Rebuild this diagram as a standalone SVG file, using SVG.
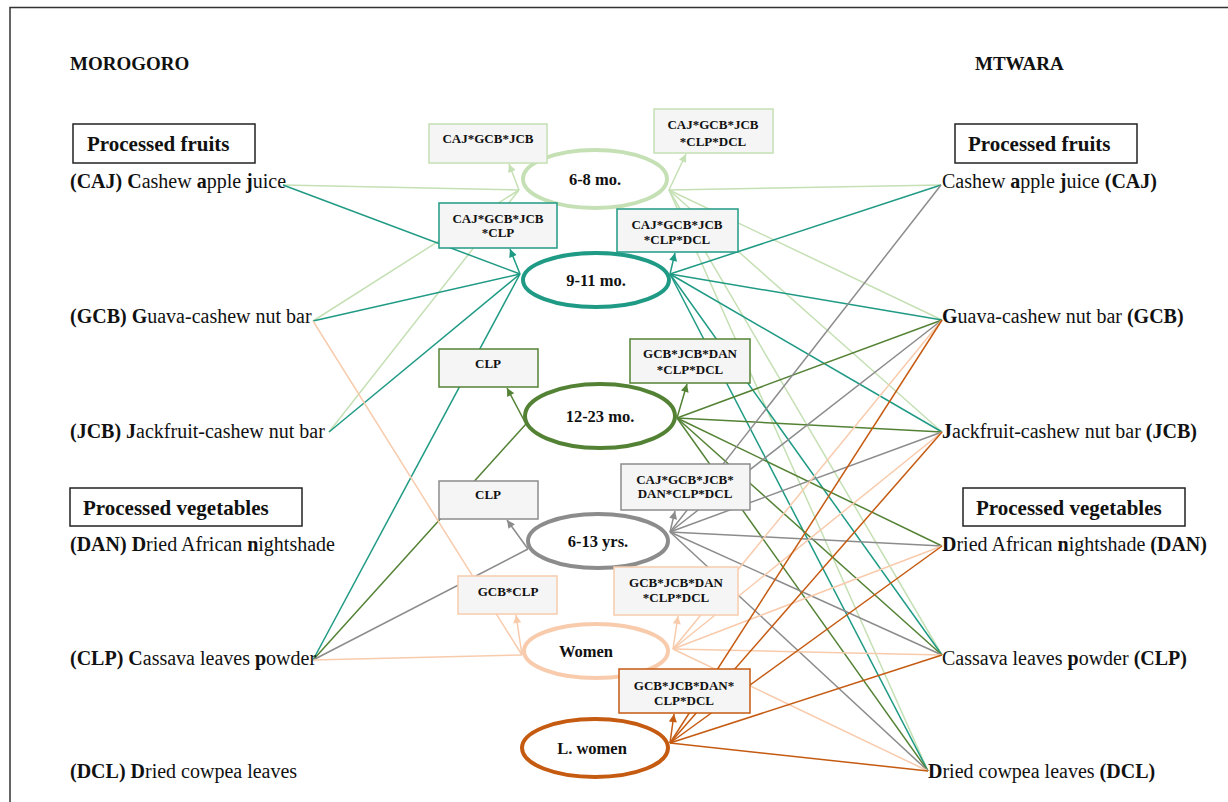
<svg xmlns="http://www.w3.org/2000/svg" width="1228" height="802" viewBox="0 0 1228 802">
<style>
text{font-family:"Liberation Serif","Times New Roman",serif;fill:#111}
.hd{font-size:19px;font-weight:bold}
.cat{font-size:21px;font-weight:bold}
.lbl{font-size:20px}
.b{font-weight:bold}
.el{font-size:16.5px;font-weight:bold;text-anchor:middle}
.bx{font-size:13px;font-weight:bold;text-anchor:middle}
.catbox{fill:#fff;stroke:#222;stroke-width:1.5}
.box{fill:#f5f5f5;stroke-width:1.5}
.ell{fill:#fff;stroke-width:4}
.c1{stroke:#c5e0b4}.c2{stroke:#1f9a84}.c3{stroke:#548235}.c4{stroke:#8c8c8c}.c5{stroke:#f8cbad}.c6{stroke:#c55a11}
.ln{fill:none;stroke-width:1.5}
</style>
<defs>
<marker id="m1" viewBox="0 0 10 10" refX="10" refY="5" markerWidth="9" markerHeight="8" markerUnits="userSpaceOnUse" orient="auto"><path d="M0,0L10,5L0,10z" fill="#c5e0b4"/></marker>
<marker id="m2" viewBox="0 0 10 10" refX="10" refY="5" markerWidth="9" markerHeight="8" markerUnits="userSpaceOnUse" orient="auto"><path d="M0,0L10,5L0,10z" fill="#1f9a84"/></marker>
<marker id="m3" viewBox="0 0 10 10" refX="10" refY="5" markerWidth="9" markerHeight="8" markerUnits="userSpaceOnUse" orient="auto"><path d="M0,0L10,5L0,10z" fill="#548235"/></marker>
<marker id="m4" viewBox="0 0 10 10" refX="10" refY="5" markerWidth="9" markerHeight="8" markerUnits="userSpaceOnUse" orient="auto"><path d="M0,0L10,5L0,10z" fill="#8c8c8c"/></marker>
<marker id="m5" viewBox="0 0 10 10" refX="10" refY="5" markerWidth="9" markerHeight="8" markerUnits="userSpaceOnUse" orient="auto"><path d="M0,0L10,5L0,10z" fill="#f8cbad"/></marker>
<marker id="m6" viewBox="0 0 10 10" refX="10" refY="5" markerWidth="9" markerHeight="8" markerUnits="userSpaceOnUse" orient="auto"><path d="M0,0L10,5L0,10z" fill="#c55a11"/></marker>
</defs>
<rect width="1228" height="802" fill="#fff"/>
<path d="M1228,7.5H10V802" fill="none" stroke="#333" stroke-width="1.5"/>

<g id="connectors">
<!-- left inputs -->
<g class="ln c1">
<line x1="283" y1="185" x2="519" y2="190"/>
<line x1="313" y1="321" x2="519" y2="190"/>
<line x1="329" y1="432" x2="519" y2="190"/>
</g>
<g class="ln c2">
<line x1="283" y1="185" x2="520" y2="274"/>
<line x1="313" y1="321" x2="520" y2="274"/>
<line x1="329" y1="432" x2="520" y2="274"/>
<line x1="313" y1="660" x2="520" y2="274"/>
</g>
<line class="ln c3" x1="313" y1="660" x2="526" y2="424"/>
<line class="ln c4" x1="313" y1="660" x2="528" y2="549"/>
<g class="ln c5">
<line x1="313" y1="321" x2="522" y2="655"/>
<line x1="313" y1="660" x2="522" y2="655"/>
</g>
<!-- right outputs -->
<g class="ln c1">
<line x1="669" y1="190" x2="941" y2="185"/>
<line x1="669" y1="190" x2="942" y2="320"/>
<line x1="669" y1="190" x2="942" y2="432"/>
<line x1="669" y1="190" x2="942" y2="655"/>
<line x1="669" y1="190" x2="928" y2="771"/>
</g>
<g class="ln c2">
<line x1="670" y1="274" x2="941" y2="185"/>
<line x1="670" y1="274" x2="942" y2="320"/>
<line x1="670" y1="274" x2="942" y2="432"/>
<line x1="670" y1="274" x2="942" y2="655"/>
<line x1="670" y1="274" x2="928" y2="771"/>
</g>
<g class="ln c3">
<line x1="677" y1="418" x2="942" y2="320"/>
<line x1="677" y1="418" x2="942" y2="432"/>
<line x1="677" y1="418" x2="942" y2="546"/>
<line x1="677" y1="418" x2="942" y2="655"/>
<line x1="677" y1="418" x2="928" y2="771"/>
</g>
<g class="ln c4">
<line x1="670" y1="532" x2="941" y2="185"/>
<line x1="670" y1="532" x2="942" y2="320"/>
<line x1="670" y1="532" x2="942" y2="432"/>
<line x1="670" y1="532" x2="942" y2="546"/>
<line x1="670" y1="532" x2="942" y2="655"/>
<line x1="670" y1="532" x2="928" y2="771"/>
</g>
<g class="ln c5">
<line x1="673" y1="649" x2="942" y2="320"/>
<line x1="673" y1="649" x2="942" y2="432"/>
<line x1="673" y1="649" x2="942" y2="546"/>
<line x1="673" y1="649" x2="942" y2="655"/>
<line x1="673" y1="649" x2="928" y2="771"/>
</g>
<g class="ln c6">
<line x1="670" y1="743" x2="942" y2="320"/>
<line x1="670" y1="743" x2="942" y2="432"/>
<line x1="670" y1="743" x2="942" y2="546"/>
<line x1="670" y1="743" x2="942" y2="655"/>
<line x1="670" y1="743" x2="928" y2="771"/>
</g>
<!-- arrows to boxes -->
<line class="ln c1" x1="519" y1="190" x2="509" y2="164" marker-end="url(#m1)"/>
<line class="ln c1" x1="669" y1="190" x2="686" y2="154" marker-end="url(#m1)"/>
<line class="ln c2" x1="520" y1="274" x2="510" y2="249" marker-end="url(#m2)"/>
<line class="ln c2" x1="670" y1="274" x2="675" y2="253" marker-end="url(#m2)"/>
<line class="ln c3" x1="526" y1="424" x2="507" y2="388" marker-end="url(#m3)"/>
<line class="ln c3" x1="677" y1="418" x2="687" y2="384" marker-end="url(#m3)"/>
<line class="ln c4" x1="528" y1="549" x2="507" y2="520" marker-end="url(#m4)"/>
<line class="ln c4" x1="670" y1="532" x2="675" y2="511" marker-end="url(#m4)"/>
<line class="ln c5" x1="522" y1="655" x2="516" y2="615" marker-end="url(#m5)"/>
<line class="ln c5" x1="673" y1="649" x2="678" y2="616" marker-end="url(#m5)"/>
<line class="ln c6" x1="670" y1="743" x2="674" y2="714" marker-end="url(#m6)"/>
</g>

<g id="headers">
<text class="hd" x="70" y="70">MOROGORO</text>
<text class="hd" x="975" y="70">MTWARA</text>
</g>

<g id="left-fruits-cat"><rect class="catbox" x="73" y="124" width="182" height="39"/><text class="cat" x="87" y="151">Processed fruits</text></g>
<g id="left-veg-cat"><rect class="catbox" x="70" y="488" width="232" height="38"/><text class="cat" x="83" y="515">Processed vegetables</text></g>
<g id="right-fruits-cat"><rect class="catbox" x="955" y="124" width="182" height="39"/><text class="cat" x="968" y="151">Processed fruits</text></g>
<g id="right-veg-cat"><rect class="catbox" x="963" y="488" width="222" height="38"/><text class="cat" x="976" y="515">Processed vegetables</text></g>

<g id="L-CAJ"><text class="lbl" x="70" y="188"><tspan class="b">(CAJ) C</tspan>ashew <tspan class="b">a</tspan>pple <tspan class="b">j</tspan>uice</text></g>
<g id="L-GCB"><text class="lbl" x="70" y="323"><tspan class="b">(GCB) G</tspan>uava-cashew nut bar</text></g>
<g id="L-JCB"><text class="lbl" x="70" y="438"><tspan class="b">(JCB) J</tspan>ackfruit-cashew nut bar</text></g>
<g id="L-DAN"><text class="lbl" x="70" y="551"><tspan class="b">(DAN) D</tspan>ried African <tspan class="b">n</tspan>ightshade</text></g>
<g id="L-CLP"><text class="lbl" x="70" y="665"><tspan class="b">(CLP) C</tspan>assava leaves <tspan class="b">p</tspan>owder</text></g>
<g id="L-DCL"><text class="lbl" x="70" y="778"><tspan class="b">(DCL) D</tspan>ried cowpea leaves</text></g>

<g id="R-CAJ"><text class="lbl" x="942" y="188">Cashew <tspan class="b">a</tspan>pple <tspan class="b">j</tspan>uice <tspan class="b">(CAJ)</tspan></text></g>
<g id="R-GCB"><text class="lbl" x="942" y="323"><tspan class="b">G</tspan>uava-cashew nut bar <tspan class="b">(GCB)</tspan></text></g>
<g id="R-JCB"><text class="lbl" x="942" y="438"><tspan class="b">J</tspan>ackfruit-cashew nut bar <tspan class="b">(JCB)</tspan></text></g>
<g id="R-DAN"><text class="lbl" x="942" y="551"><tspan class="b">D</tspan>ried African <tspan class="b">n</tspan>ightshade <tspan class="b">(DAN)</tspan></text></g>
<g id="R-CLP"><text class="lbl" x="942" y="665">Cassava leaves <tspan class="b">p</tspan>owder <tspan class="b">(CLP)</tspan></text></g>
<g id="R-DCL"><text class="lbl" x="928" y="778"><tspan class="b">D</tspan>ried cowpea leaves <tspan class="b">(DCL)</tspan></text></g>

<g id="n-6-8">
<ellipse class="ell c1" cx="595" cy="179" rx="72" ry="29"/><text class="el" x="595" y="185">6-8 mo.</text>
<rect class="box c1" x="429" y="124" width="118" height="39"/><text class="bx" x="488" y="143">CAJ*GCB*JCB</text>
<rect class="box c1" x="654" y="109" width="119" height="44"/><text class="bx" x="713" y="129">CAJ*GCB*JCB</text><text class="bx" x="713" y="146">*CLP*DCL</text>
</g>
<g id="n-9-11">
<ellipse class="ell c2" cx="596" cy="280" rx="73" ry="27"/><text class="el" x="596" y="286">9-11 mo.</text>
<rect class="box c2" x="439" y="203" width="118" height="45"/><text class="bx" x="498" y="223">CAJ*GCB*JCB</text><text class="bx" x="498" y="237">*CLP</text>
<rect class="box c2" x="617" y="209" width="121" height="43"/><text class="bx" x="677" y="229">CAJ*GCB*JCB</text><text class="bx" x="677" y="244">*CLP*DCL</text>
</g>
<g id="n-12-23">
<ellipse class="ell c3" cx="600" cy="416" rx="75" ry="32"/><text class="el" x="600" y="422">12-23 mo.</text>
<rect class="box c3" x="439" y="349" width="99" height="38"/><text class="bx" x="488" y="368">CLP</text>
<rect class="box c3" x="630" y="339" width="120" height="44"/><text class="bx" x="690" y="358">GCB*JCB*DAN</text><text class="bx" x="690" y="374">*CLP*DCL</text>
</g>
<g id="n-6-13">
<ellipse class="ell c4" cx="598" cy="541" rx="70" ry="27"/><text class="el" x="598" y="547">6-13 yrs.</text>
<rect class="box c4" x="439" y="481" width="99" height="38"/><text class="bx" x="488" y="499">CLP</text>
<rect class="box c4" x="621" y="464" width="129" height="46"/><text class="bx" x="685" y="484">CAJ*GCB*JCB*</text><text class="bx" x="685" y="498">DAN*CLP*DCL</text>
</g>
<g id="n-women">
<ellipse class="ell c5" cx="596" cy="651" rx="72" ry="27"/><text class="el" x="586" y="657">Women</text>
<rect class="box c5" x="458" y="576" width="99" height="38"/><text class="bx" x="508" y="596">GCB*CLP</text>
<rect class="box c5" x="614" y="567" width="124" height="48"/><text class="bx" x="676" y="587">GCB*JCB*DAN</text><text class="bx" x="676" y="602">*CLP*DCL</text>
</g>
<g id="n-lwomen">
<ellipse class="ell c6" cx="595" cy="748" rx="73" ry="29"/><text class="el" x="592" y="754">L. women</text>
<rect class="box c6" x="619" y="669" width="131" height="44"/><text class="bx" x="684" y="690">GCB*JCB*DAN*</text><text class="bx" x="684" y="705">CLP*DCL</text>
</g>
</svg>
